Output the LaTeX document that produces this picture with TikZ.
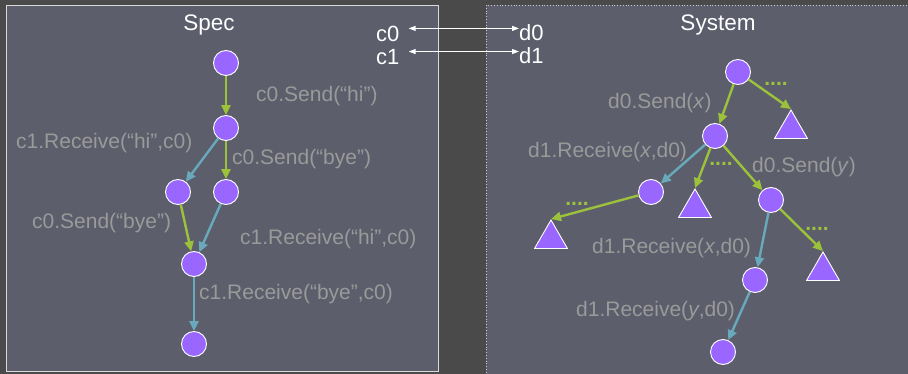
\documentclass[tikz,border=0pt]{standalone}
\usepackage{fontspec}
\setmainfont{Liberation Sans}
\usetikzlibrary{arrows.meta,shapes.geometric}
\definecolor{bg}{HTML}{4A4A4A}
\definecolor{panel}{HTML}{5C5E6C}
\definecolor{vio}{HTML}{9966FF}
\definecolor{grn}{HTML}{9CC23C}
\definecolor{tea}{HTML}{68AABB}
\definecolor{lbl}{HTML}{9A9A9A}
\begin{document}
\begin{tikzpicture}[x=1pt,y=-1pt,
  st/.style={circle,draw=white,line width=0.9pt,fill=vio,minimum size=25pt,inner sep=0pt},
  tri/.style={regular polygon,regular polygon sides=3,draw=white,line width=0.9pt,fill=vio,minimum size=38pt,inner sep=0pt},
  ga/.style={draw=grn,line width=2.4pt,-{Triangle[length=10pt,width=9pt]}},
  ta/.style={draw=tea,line width=2.4pt,-{Triangle[length=10pt,width=9pt]}},
  bi/.style={draw=white,line width=1.1pt,{Triangle[length=7pt,width=5pt]}-{Triangle[length=7pt,width=5pt]}},
  lab/.style={text=lbl,font=\fontsize{21}{25}\selectfont,anchor=west,inner sep=0pt},
  ttl/.style={text=white,font=\fontsize{22.5}{26}\selectfont,inner sep=0pt},
  chn/.style={text=white,font=\fontsize{22}{26}\selectfont,inner sep=0pt,anchor=base west},
  mk/.style={text=grn,font=\fontsize{21}{25}\selectfont\bfseries,inner sep=0pt}
]
\useasboundingbox (0,0) rectangle (908,374);
\fill[bg] (0,0) rectangle (908,374);
% panels
\filldraw[fill=panel,draw=white!85!black,line width=0.9pt] (6,5) rectangle (438,371);
\filldraw[fill=panel,draw=white!80!black,line width=0.8pt,dotted] (486,5) rectangle (912,380);

% titles
\node[ttl] (spec) at (209,25) {Spec};
\node[ttl] (sys) at (718,25) {System};

% channels
\node[chn] (c0) at (376,42) {c0};
\node[chn] (c1) at (376,65) {c1};
\node[chn] (d0) at (519,41) {d0};
\node[chn] (d1) at (519,64) {d1};
\draw[bi] ([xshift=9pt,yshift=6pt]c0.east) -- ([yshift=6pt]c0.east -| d0.west);
\draw[bi] ([xshift=9pt,yshift=6pt]c1.east) -- ([yshift=6pt]c1.east -| d1.west);

% spec nodes
\node[st] (s1) at (226,63) {};
\node[st] (s2) at (226,128) {};
\node[st] (s3) at (178,192) {};
\node[st] (s4) at (226,192) {};
\node[st] (s5) at (194,264) {};
\node[st] (s6) at (194,344) {};
\draw[ga] (s1) -- (s2);
\draw[ta] (s2) -- (s3);
\draw[ga] (s2) -- (s4);
\draw[ga] (s3) -- (s5);
\draw[ta] (s4) -- (s5);
\draw[ta] (s5) -- (s6);
\node[lab] (l1) at (256,96) {c0.Send(“hi”)};
\node[lab] (l2) at (16,143) {c1.Receive(“hi”,c0)};
\node[lab] (l3) at (232,159) {c0.Send(“bye”)};
\node[lab] (l4) at (32,223) {c0.Send(“bye”)};
\node[lab] (l5) at (240,239) {c1.Receive(“hi”,c0)};
\node[lab] (l6) at (199,294) {c1.Receive(“bye”,c0)};

% system nodes
\node[st] (r) at (738,72) {};
\node[st] (a) at (715,136) {};
\node[st] (b) at (651,192) {};
\node[st] (c) at (771,200) {};
\node[st] (e) at (755,280) {};
\node[st] (f) at (723,352) {};
\node[tri] (t1) at (791,129) {};
\node[tri] (t2) at (695,208) {};
\node[tri] (t3) at (551,239) {};
\node[tri] (t4) at (823,271) {};
\draw[ga] (r) -- (a);
\draw[ga] (r) -- (t1.corner 1);
\draw[ta] (a) -- (b);
\draw[ga] (a) -- (t2.corner 1);
\draw[ga] (a) -- (c);
\draw[ga] (b) -- (t3.corner 1);
\draw[ta] (c) -- (e);
\draw[ga] (c) -- (t4.corner 1);
\draw[ta] (e) -- (f);
\node[lab] (m1l) at (608,103) {d0.Send(\textit{x})};
\node[lab] (m2l) at (528,152) {d1.Receive(\textit{x},d0)};
\node[lab] (m3l) at (752,167) {d0.Send(\textit{y})};
\node[lab] (m4l) at (592,248) {d1.Receive(\textit{x},d0)};
\node[lab] (m5l) at (576,311) {d1.Receive(\textit{y},d0)};

% ellipsis marks
\node[mk] (k1) at (776,84) {....};
\node[mk] (k2) at (721,164) {....};
\node[mk] (k3) at (577,204) {....};
\node[mk] (k4) at (817,229) {....};
\end{tikzpicture}
\end{document}
